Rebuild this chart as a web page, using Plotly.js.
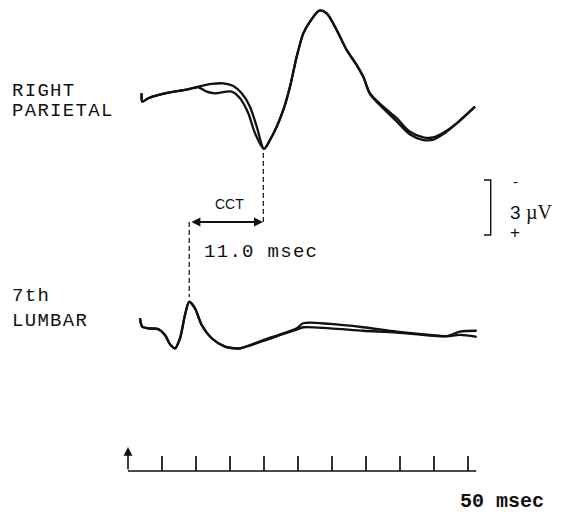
<!DOCTYPE html>
<html><head><meta charset="utf-8">
<script src="https://cdn.plot.ly/plotly-3.0.1.min.js"></script>
<style>html,body{margin:0;padding:0;background:#fff}#chart{width:563px;height:514px}</style>
</head><body><div id="chart"></div>
<script>
// Time in msec after stimulus, voltage in µV (clinical convention: negative plotted upward)
const parietalA_t = [2.01, 2.10, 2.99, 5.93, 8.38, 10.34, 12.31, 14.01, 15.49, 16.72, 17.94, 18.93, 20.0, 20.88, 21.87, 22.84, 23.82, 24.81, 25.78, 26.76, 28.13, 29.22, 30.69, 32.16, 33.63, 34.6, 35.59, 37.54, 39.51, 41.47, 43.43, 44.9, 46.37, 48.34, 51.03];
const parietalA_v = [0.07, 0.53, 0.34, 0.04, -0.11, -0.29, -0.44, -0.47, -0.33, 0.07, 0.80, 1.89, 3.10, 2.62, 1.89, 0.98, -0.29, -1.93, -3.20, -3.84, -4.44, -4.29, -3.38, -2.29, -1.47, -0.83, 0.07, 0.80, 1.43, 2.17, 2.47, 2.47, 2.22, 1.71, 0.80];
const parietalB_t = [2.01, 2.10, 2.99, 5.93, 8.38, 10.34, 11.57, 12.79, 15.25, 16.47, 17.69, 18.68, 20.0, 20.88, 21.87, 22.84, 23.82, 24.81, 25.78, 26.76, 28.13, 29.22, 30.69, 32.16, 33.63, 34.6, 35.59, 37.54, 39.51, 41.47, 43.43, 44.9, 46.37, 48.34, 51.03];
const parietalB_v = [0.07, 0.53, 0.34, 0.04, -0.11, -0.25, -0.02, 0.07, -0.02, 0.34, 1.16, 2.25, 3.10, 2.62, 1.89, 0.98, -0.29, -1.93, -3.20, -3.84, -4.44, -4.29, -3.38, -2.29, -1.47, -0.83, 0.12, 0.90, 1.60, 2.32, 2.62, 2.60, 2.30, 1.71, 0.80];
const lumbarA_t = [1.76, 2.10, 2.99, 4.46, 5.44, 6.18, 6.91, 7.65, 8.38, 9.0, 9.85, 10.84, 12.31, 14.26, 15.74, 16.47, 19.90, 22.84, 24.81, 25.78, 29.71, 34.6, 39.51, 44.41, 46.87, 48.82, 51.28];
const lumbarA_v = [-0.64, -0.18, -0.09, -0.05, 0.27, 0.78, 1.00, 0.45, -0.82, -1.54, -1.18, -0.27, 0.45, 0.91, 1.00, 1.00, 0.55, 0.18, -0.09, -0.37, -0.33, -0.15, 0.09, 0.27, 0.33, 0.09, 0.04];
const lumbarB_t = [1.76, 2.10, 2.99, 4.46, 5.44, 6.18, 6.91, 7.65, 8.38, 9.0, 9.85, 10.84, 12.31, 14.26, 15.74, 16.47, 19.90, 22.84, 24.81, 25.78, 29.71, 34.6, 39.51, 44.41, 46.87, 48.82, 51.28];
const lumbarB_v = [-0.64, -0.18, -0.09, -0.05, 0.27, 0.78, 1.00, 0.45, -0.82, -1.54, -1.18, -0.27, 0.45, 0.91, 1.00, 1.00, 0.60, 0.22, -0.02, -0.15, -0.09, 0.04, 0.14, 0.30, 0.35, 0.27, 0.37];
const timeTicks = [5, 10, 15, 20, 25, 30, 35, 40, 45, 50];
const sweepEnd = 51.2;
const lumbarPeak = 9.0;
const parietalTrough = 20.0;
const cctValue = 11.0;
const scaleBarUV = 3;

// layout helpers: page pixel -> axis units
const PXMS = 6.8, PXUV = 18.33, X0 = 128, H = 514, W = 563;
const X = px => (px - X0) / PXMS;
const Y = py => (H - py) / PXUV;

const parBase = Y(92), lumBase = Y(330);
const barBase = Y(471), barTop = Y(456);

const traceStyle = {mode: 'lines', line: {color: '#111', width: 2.3, shape: 'spline', smoothing: 0.8}, hoverinfo: 'skip'};
const data = [
  Object.assign({x: parietalA_t, y: parietalA_v.map(v => parBase - v)}, traceStyle),
  Object.assign({x: parietalB_t, y: parietalB_v.map(v => parBase - v)}, traceStyle),
  Object.assign({x: lumbarA_t, y: lumbarA_v.map(v => lumBase - v)}, traceStyle),
  Object.assign({x: lumbarB_t, y: lumbarB_v.map(v => lumBase - v)}, traceStyle)
];
// time bar with 5 msec ticks
const bx = [0], by = [barBase];
timeTicks.forEach(t => { bx.push(t, t, t); by.push(barBase, barTop, barBase); });
bx.push(sweepEnd); by.push(barBase);
data.push({x: bx, y: by, mode: 'lines', line: {color: '#111', width: 1.7}, hoverinfo: 'skip'});
// amplitude scale bar
const sbTop = Y(180), sbX = X(490.7), sbL = X(484);
data.push({x: [sbL, sbX, sbX, sbL], y: [sbTop, sbTop, sbTop - scaleBarUV, sbTop - scaleBarUV], mode: 'lines', line: {color: '#111', width: 1.4}, hoverinfo: 'skip'});

const mono = 'Liberation Mono, DejaVu Sans Mono, monospace';
const sp = s => '<span style="letter-spacing:1.3px">' + s + '</span>';
function label(text, px, py, opts) {
  return Object.assign({x: X(px), y: Y(py), xref: 'x', yref: 'y', text: text, showarrow: false,
    xanchor: 'left', yanchor: 'middle', font: {family: mono, size: 19, color: '#111'}}, opts || {});
}
const annotations = [
  label(sp('RIGHT'), 10, 91),
  label(sp('PARIETAL'), 10, 111),
  label(sp('7th'), 10, 296),
  label(sp('LUMBAR'), 10, 321),
  label(sp('11.0 msec'), 202, 252),
  label('<b>50 msec</b>', 502, 501, {xanchor: 'center', font: {family: mono, size: 20, color: '#111'}}),
  label('CCT', 229, 204, {xanchor: 'center', font: {family: 'Liberation Sans, Arial, sans-serif', size: 14, color: '#111'}}),
  label('-', 515, 181, {xanchor: 'center', font: {family: 'Liberation Serif, serif', size: 15, color: '#111'}}),
  label('3', 515, 212, {xanchor: 'center', font: {family: 'Liberation Sans, sans-serif', size: 19, color: '#111'}}),
  label('µV', 539, 212, {xanchor: 'center', font: {family: 'Liberation Serif, serif', size: 20, color: '#111'}}),
  label('+', 515, 232, {xanchor: 'center', font: {family: 'Liberation Sans, sans-serif', size: 17, color: '#111'}}),
  // stimulus arrow
  {x: 0, y: Y(447), ax: 0, ay: barBase, xref: 'x', yref: 'y', axref: 'x', ayref: 'y', text: '', showarrow: true,
    arrowhead: 2, arrowsize: 1.1, arrowwidth: 1.6, arrowcolor: '#111'},
  // CCT double arrow
  {x: parietalTrough - 0.15, y: Y(222), ax: lumbarPeak + 0.1, ay: Y(222), xref: 'x', yref: 'y', axref: 'x', ayref: 'y', text: '', showarrow: true,
    arrowhead: 2, startarrowhead: 2, arrowside: 'end+start', arrowsize: 1, startarrowsize: 1, arrowwidth: 1.8, arrowcolor: '#111'}
];
const shapes = [
  {type: 'line', xref: 'x', yref: 'y', x0: parietalTrough - 0.1, x1: parietalTrough - 0.1, y0: Y(153), y1: Y(222), line: {color: '#111', width: 1.2, dash: '5px,3px'}},
  {type: 'line', xref: 'x', yref: 'y', x0: lumbarPeak, x1: lumbarPeak, y0: Y(222), y1: Y(297), line: {color: '#111', width: 1.2, dash: '5px,3px'}}
];
const layout = {
  width: W, height: H, margin: {l: 0, r: 0, t: 0, b: 0}, showlegend: false,
  paper_bgcolor: '#fff', plot_bgcolor: '#fff',
  xaxis: {range: [X(0), X(W)], visible: false, fixedrange: true},
  yaxis: {range: [Y(H), Y(0)], visible: false, fixedrange: true},
  annotations: annotations, shapes: shapes
};
Plotly.newPlot('chart', data, layout, {displayModeBar: false, staticPlot: true});
</script></body></html>
